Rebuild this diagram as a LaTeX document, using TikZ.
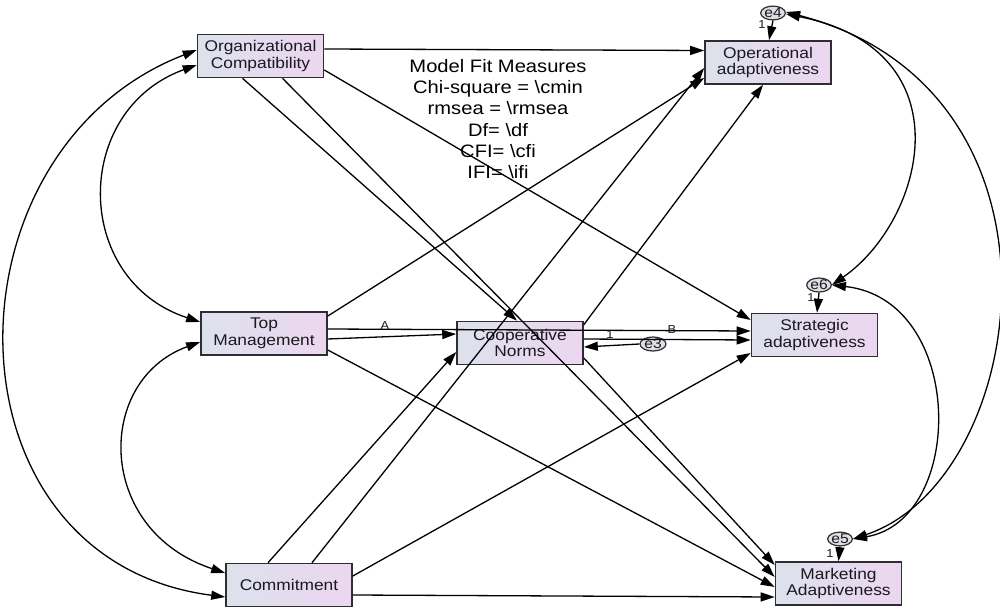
\documentclass[tikz,border=0pt]{standalone}
\usepackage{fontspec}
\setmainfont{Liberation Sans}[FakeStretch=1.12]
\usetikzlibrary{arrows.meta,calc,shapes.geometric}
\definecolor{boxl}{RGB}{221,225,236}
\definecolor{boxr}{RGB}{236,214,240}
\definecolor{boxline}{RGB}{45,45,50}
\definecolor{errfill}{RGB}{222,222,228}
\definecolor{txt}{RGB}{25,25,30}
\begin{document}
\begin{tikzpicture}[x=1pt,y=-1pt,
  box/.style={rectangle, draw=boxline, line width=1.6pt, left color=boxl, right color=boxr,
    minimum width=126pt, minimum height=43pt, inner sep=0pt, align=center,
    font=\fontsize{15.5}{16.5}\selectfont, text=txt},
  err/.style={ellipse, draw=boxline, line width=1.2pt, fill=errfill, minimum width=23pt,
    minimum height=13pt, inner sep=0pt, font=\fontsize{14}{14}\selectfont, text=txt},
  lab/.style={font=\fontsize{11.5}{11.5}\selectfont, text=txt, inner sep=0pt},
  tip/.tip={Triangle[length=14pt,width=9pt]},
  reg/.style={-tip, line width=1.3pt},
  cov/.style={tip-tip, line width=1.3pt}]
\useasboundingbox (0,0) rectangle (1000,615);
\fill[white] (0,0) rectangle (1000,615);

% variables
\node[box] (OC) at (260.5,56) {Organizational\\Compatibility};
\node[box] (OA) at (768,62.5) {Operational\\adaptiveness};
\node[box] (TM) at (264,333.5) {Top\\Management};
\node[box] (CN) at (520,343) {Cooperative\\Norms};
\node[box] (SA) at (814.5,335) {Strategic\\adaptiveness};
\node[box] (CO) at (289,585) {Commitment};
\node[box] (MA) at (838.5,583.5) {Marketing\\Adaptiveness};

% errors
\node[err] (e4) at (773,13) {e4};
\node[err] (e6) at (819,285) {e6};
\node[err] (e5) at (840,539) {e5};
\node[err, minimum width=26pt] (e3) at (653,344) {e3};

% fit text
\node[font=\fontsize{18}{21.2}\selectfont, align=center, text=black, inner sep=0pt] (fit) at (498,119)
 {Model Fit Measures\\Chi-square = \textbackslash cmin\\rmsea = \textbackslash rmsea\\Df= \textbackslash df\\CFI= \textbackslash cfi\\IFI= \textbackslash ifi};

% regressions
\draw[reg] ($(OC.east)+(0,-7)$) -- ($(OA.west)+(0,-12)$);
\draw[reg] ($(OC.east)+(0,14)$) -- ($(SA.west)+(0,-15)$);
\draw[reg] ($(OC.south)+(-18,0)$) -- ($(CN.north)+(-3,0)$);
\draw[reg] ($(OC.south)+(22,0)$) -- ($(MA.west)+(0,-6.5)$);
\draw[reg] ($(TM.east)+(0,-17.5)$) -- ($(OA.west)+(0,15.5)$);
\draw[reg] ($(TM.east)+(0,5.5)$) -- ($(CN.west)+(0,-9)$);
\draw[reg] ($(TM.east)+(0,-4.5)$) -- ($(SA.west)+(0,-4)$);
\draw[reg] ($(TM.east)+(0,16.5)$) -- ($(MA.west)+(0,3.5)$);
\draw[reg] ($(CN.north east)+(0,4)$) -- ($(OA.south)+(-5,0)$);
\draw[reg] ($(CN.east)+(0,-4)$) -- ($(SA.west)+(0,5)$);
\draw[reg] ($(CN.east)+(0,15)$) -- ($(MA.west)+(0,-18.5)$);
\draw[reg] (e3.west) -- ($(CN.east)+(0,4)$);
\draw[reg] ($(CO.north)+(-21,0)$) -- ($(CN.west)+(0,9)$);
\draw[reg] ($(CO.north)+(23,0)$) -- ($(OA.west)+(0,5.5)$);
\draw[reg] ($(CO.east)+(0,-9)$) -- ($(SA.west)+(0,18)$);
\draw[reg] ($(CO.east)+(0,10)$) -- ($(MA.west)+(0,13.5)$);
\draw[reg] (e4.south) -- ($(OA.north)+(1,0)$);
\draw[reg] (e6.south) -- ($(SA.north)+(2.5,0)$);
\draw[reg] (e5.south) -- (MA.north);

% covariances
\draw[cov] ($(OC.west)+(0,9)$) .. controls (72,110) and (72,280) .. ($(TM.west)+(0,-11.5)$);
\draw[cov] ($(OC.west)+(0,-6)$) .. controls (-62,150) and (-62,560) .. ($(CO.west)+(0,12)$);
\draw[cov] ($(TM.west)+(0,8.5)$) .. controls (95,380) and (95,530) .. ($(CO.west)+(0,-12)$);
\draw[cov] ($(e4.east)+(0,1)$) .. controls (968,50) and (925,220) .. (e6.east);
\draw[cov] ($(e4.east)+(0,-1)$) .. controls (1086,90) and (1030,480) .. (e5.east);
\draw[cov] (e6.east) .. controls (966,300) and (966,520) .. (e5.east);

% labels
\node[lab] (lA) at (385,326) {A};
\node[lab] (lB) at (672,330) {B};
\node[lab] (l1) at (610,335) {1};
\node[lab] (l4) at (762,25) {1};
\node[lab] (l6) at (811,298) {1};
\node[lab] (l5) at (830,554) {1};
\end{tikzpicture}
\end{document}
